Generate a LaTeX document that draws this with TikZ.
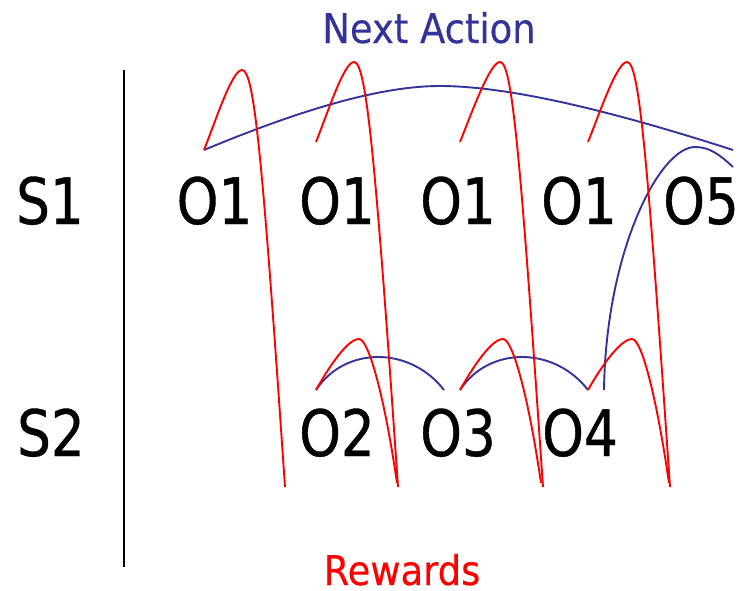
\documentclass[tikz,border=0pt]{standalone}
\usepackage{fontspec}
\setmainfont{DejaVu Sans}
\newfontfamily\rowfont{DejaVu Sans}[FakeStretch=0.83, FakeBold=0.6]
\newfontfamily\titlefont{DejaVu Sans}[FakeStretch=0.9, FakeBold=0.3]
\definecolor{actblue}{RGB}{51,51,153}
\definecolor{rewred}{RGB}{255,0,0}

\tikzset{
  statelbl/.style={font={\rowfont\fontsize{64}{70}\selectfont}, inner sep=0pt, anchor=base},
  titlelbl/.style={font={\titlefont\fontsize{41}{46}\selectfont}, inner sep=0pt, anchor=base},
  reward/.style={draw=rewred, line width=1.9pt},
  action/.style={draw=actblue, line width=1.9pt},
  divider/.style={draw=black, line width=1.5pt}
}

% upper reward arc: start, peak, end (falls down past the lower row)
\newcommand\upperreward[3]{%
  \draw[reward] (#1) .. controls +(12,-30) and +(-10,0) .. (#2)
                      .. controls +(12,0) and +(-23,-337) .. (#3);}
% lower reward arc
\newcommand\lowerreward[3]{%
  \draw[reward] (#1) .. controls +(14,-25) and +(-11,0) .. (#2)
                      .. controls +(10,0) and +(-12,-83) .. (#3);}

\begin{document}
\begin{tikzpicture}[x=1pt, y=-1pt]
  \useasboundingbox (0,0) rectangle (740,590);

  % titles
  \node[titlelbl, text=actblue] (next) at (429,43) {Next Action};
  \node[titlelbl, text=rewred] (rew) at (402,585) {Rewards};

  % state labels and divider
  \node[statelbl] (s1) at (50,224) {S1};
  \node[statelbl] (s2) at (51,456) {S2};
  \coordinate (divtop) at (124,70);
  \coordinate (divbot) at (124,567);
  \draw[divider] (divtop) -- (divbot);

  % options in state S1
  \node[statelbl] (o1a) at (214.5,224) {O1};
  \node[statelbl] (o1b) at (337,224) {O1};
  \node[statelbl] (o1c) at (458,224) {O1};
  \node[statelbl] (o1d) at (579,224) {O1};
  \node[statelbl] (o5)  at (701,224) {O5};

  % options in state S2
  \node[statelbl] (o2) at (337,456) {O2};
  \node[statelbl] (o3) at (458,456) {O3};
  \node[statelbl] (o4) at (580,456) {O4};

  % anchor points of the arcs
  \coordinate (a1s) at (204,150); \coordinate (a1p) at (242,70);  \coordinate (a1e) at (285,487);
  \coordinate (a2s) at (316,142); \coordinate (a2p) at (354,62);  \coordinate (a2e) at (398,487);
  \coordinate (a3s) at (460,142); \coordinate (a3p) at (500,62);  \coordinate (a3e) at (543,487);
  \coordinate (a4s) at (588,142); \coordinate (a4p) at (627,62);  \coordinate (a4e) at (670,487);
  \coordinate (b1s) at (316,390); \coordinate (b1p) at (359,339); \coordinate (b1e) at (397,483);
  \coordinate (b2s) at (460,390); \coordinate (b2p) at (503,339); \coordinate (b2e) at (541,483);
  \coordinate (b3s) at (588,390); \coordinate (b3p) at (632,339); \coordinate (b3e) at (669,483);
  \coordinate (bigtop) at (440,86);
  \coordinate (bigend) at (733,150);
  \coordinate (hooks) at (604,390);
  \coordinate (hooktop) at (695,147);
  \coordinate (hooke) at (733,167);
  \coordinate (o3in) at (444,390);

  % next-action arcs
  \draw[action] (a1s) .. controls (300,110) and (380,86) .. (bigtop)
                      .. controls (520,86) and (640,120) .. (bigend);
  \draw[action] (hooks) .. controls (606,250) and (660,147) .. (hooktop)
                        .. controls (710,147) and (720,155) .. (hooke);
  \draw[action] (b1s) .. controls (345,346) and (410,346) .. (o3in);
  \draw[action] (b2s) .. controls (489,346) and (554,346) .. (b3s);

  % reward arcs
  \upperreward{a1s}{a1p}{a1e}
  \upperreward{a2s}{a2p}{a2e}
  \upperreward{a3s}{a3p}{a3e}
  \upperreward{a4s}{a4p}{a4e}
  \lowerreward{b1s}{b1p}{b1e}
  \lowerreward{b2s}{b2p}{b2e}
  \lowerreward{b3s}{b3p}{b3e}
\end{tikzpicture}
\end{document}
